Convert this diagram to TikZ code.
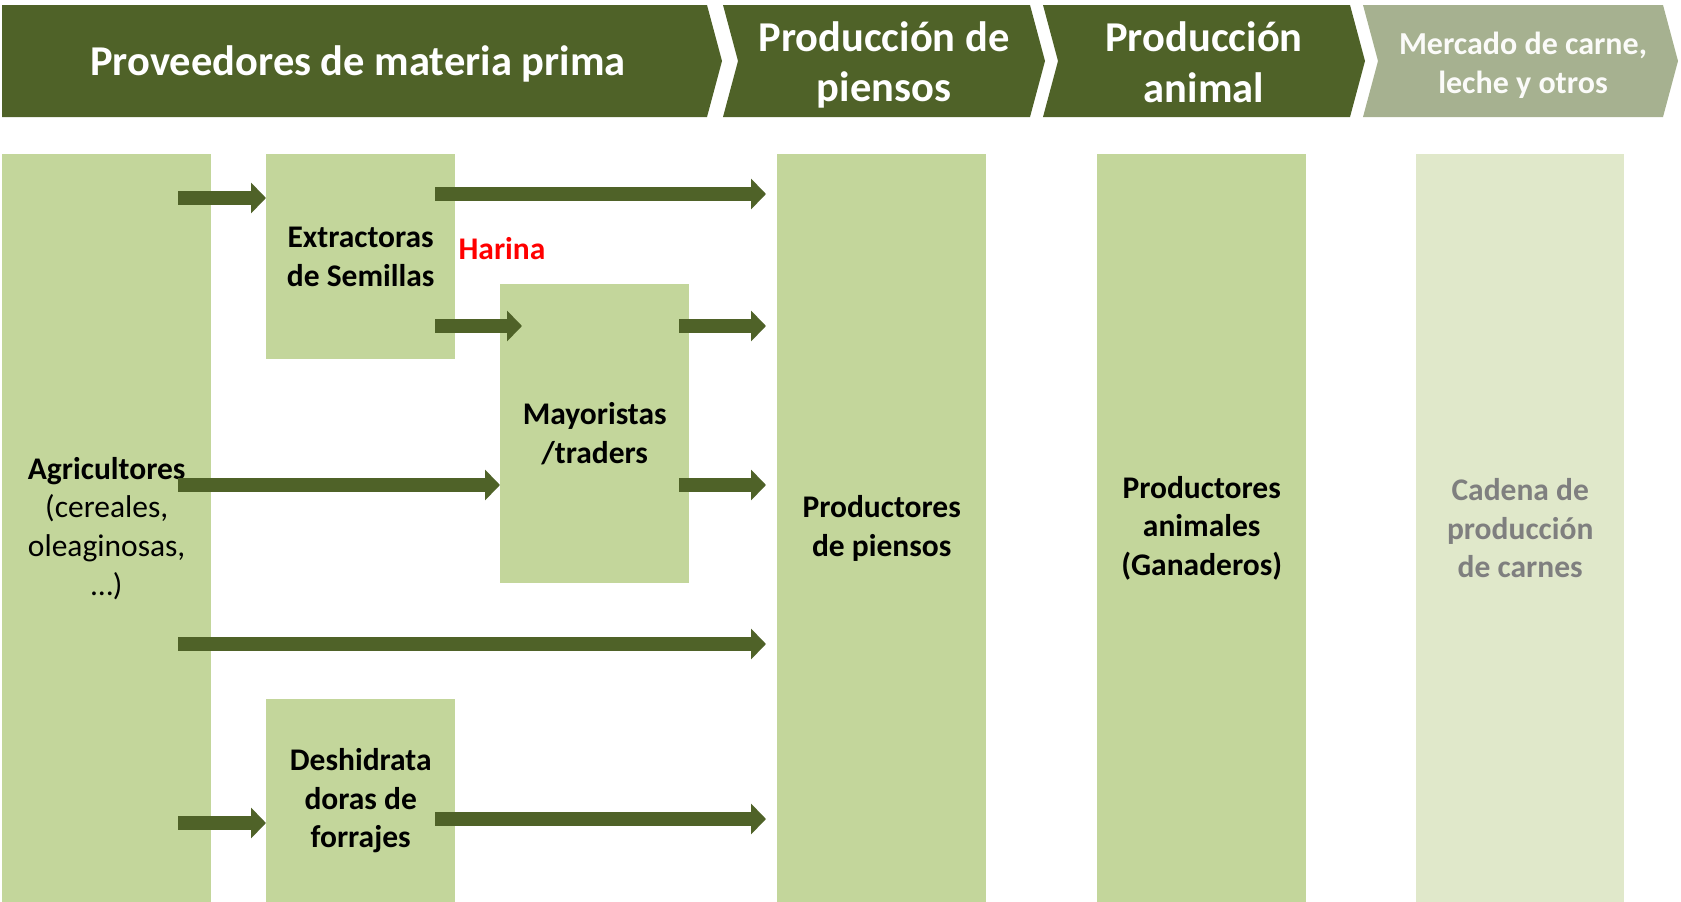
\documentclass[tikz,border=0pt]{standalone}
\usepackage{fontspec}
\setmainfont{Carlito}
\usetikzlibrary{arrows.meta}
\definecolor{dk}{HTML}{4F6228}
\definecolor{lt}{HTML}{C3D69B}
\definecolor{gr4}{HTML}{A6B190}
\definecolor{pale}{HTML}{E0E8CA}
\definecolor{txtgray}{HTML}{7F7F7F}
\definecolor{hred}{HTML}{FF0000}
\begin{document}
\begin{tikzpicture}[x=1pt,y=-1pt,
  box/.style={fill=lt, inner sep=0pt, anchor=north west, align=center,
    font=\fontsize{31.5}{38.7}\selectfont},
  hdr/.style={text=white, align=center, font=\bfseries\fontsize{42.5}{50.5}\selectfont},
  arr/.style={draw=dk, line width=14pt, -{Triangle[length=15pt,width=30pt]}}]
\useasboundingbox (0,0) rectangle (1681,902);
% header chevrons
\fill[dk] (2,5)--(707,5)--(722,61)--(707,117)--(2,117)--cycle;
\fill[dk] (723,5)--(1030,5)--(1045,61)--(1030,117)--(723,117)--(738,61)--cycle;
\fill[dk] (1043,5)--(1350,5)--(1365,61)--(1350,117)--(1043,117)--(1058,61)--cycle;
\fill[gr4] (1363,5)--(1663,5)--(1678,61)--(1663,117)--(1363,117)--(1378,61)--cycle;
\node[hdr] (h1) at (358,64) {Proveedores de materia prima};
\node[hdr] (h2) at (884,65) {Producción de\\piensos};
\node[hdr] (h3) at (1204,62) {Producción\\animal};
\node[hdr, text=white!95!gr4, font=\bfseries\fontsize{32}{38.7}\selectfont] (h4) at (1523,65) {Mercado de carne,\\leche y otros};
% boxes
\node[box, minimum width=209pt, minimum height=748pt] (agri) at (2,154)
  {\textbf{Agricultores}\\(cereales,\\oleaginosas,\\…)};
\node[box, minimum width=189pt, minimum height=205pt] (extr) at (266,154)
  {\textbf{Extractoras}\\\textbf{de Semillas}};
\node[box, minimum width=189pt, minimum height=299pt] (may) at (500,284)
  {\textbf{Mayoristas}\\\textbf{/traders}};
\node[box, minimum width=189pt, minimum height=203pt] (desh) at (266,699)
  {\textbf{Deshidrata}\\\textbf{doras de}\\\textbf{forrajes}};
\node[box, minimum width=209pt, minimum height=748pt] (pien) at (777,154)
  {\textbf{Productores}\\\textbf{de piensos}};
\node[box, minimum width=209pt, minimum height=748pt] (anim) at (1097,154)
  {\textbf{Productores}\\\textbf{animales}\\\textbf{(Ganaderos)}};
\node[box, fill=pale, text=txtgray, minimum width=208pt, minimum height=748pt] (cad) at (1416,154)
  {\textbf{Cadena de}\\\textbf{producción}\\\textbf{de carnes}};
\node[text=hred, font=\bfseries\fontsize{31.5}{34}\selectfont] (har) at (502,249) {Harina};
% arrows
\draw[arr] ([xshift=-33pt]agri.east |- 0,198) -- (extr.west |- 0,198);
\draw[arr] ([xshift=-20pt]extr.east |- 0,194) -- ([xshift=-11pt]pien.west |- 0,194);
\draw[arr] ([xshift=-20pt]extr.east |- 0,326) -- ([xshift=22pt]may.west |- 0,326);
\draw[arr] ([xshift=-10pt]may.east |- 0,326) -- ([xshift=-11pt]pien.west |- 0,326);
\draw[arr] ([xshift=-33pt]agri.east |- 0,485) -- (may.west |- 0,485);
\draw[arr] ([xshift=-10pt]may.east |- 0,485) -- ([xshift=-11pt]pien.west |- 0,485);
\draw[arr] ([xshift=-33pt]agri.east |- 0,644) -- ([xshift=-11pt]pien.west |- 0,644);
\draw[arr] ([xshift=-33pt]agri.east |- 0,823) -- (desh.west |- 0,823);
\draw[arr] ([xshift=-20pt]desh.east |- 0,819) -- ([xshift=-11pt]pien.west |- 0,819);
\end{tikzpicture}
\end{document}
